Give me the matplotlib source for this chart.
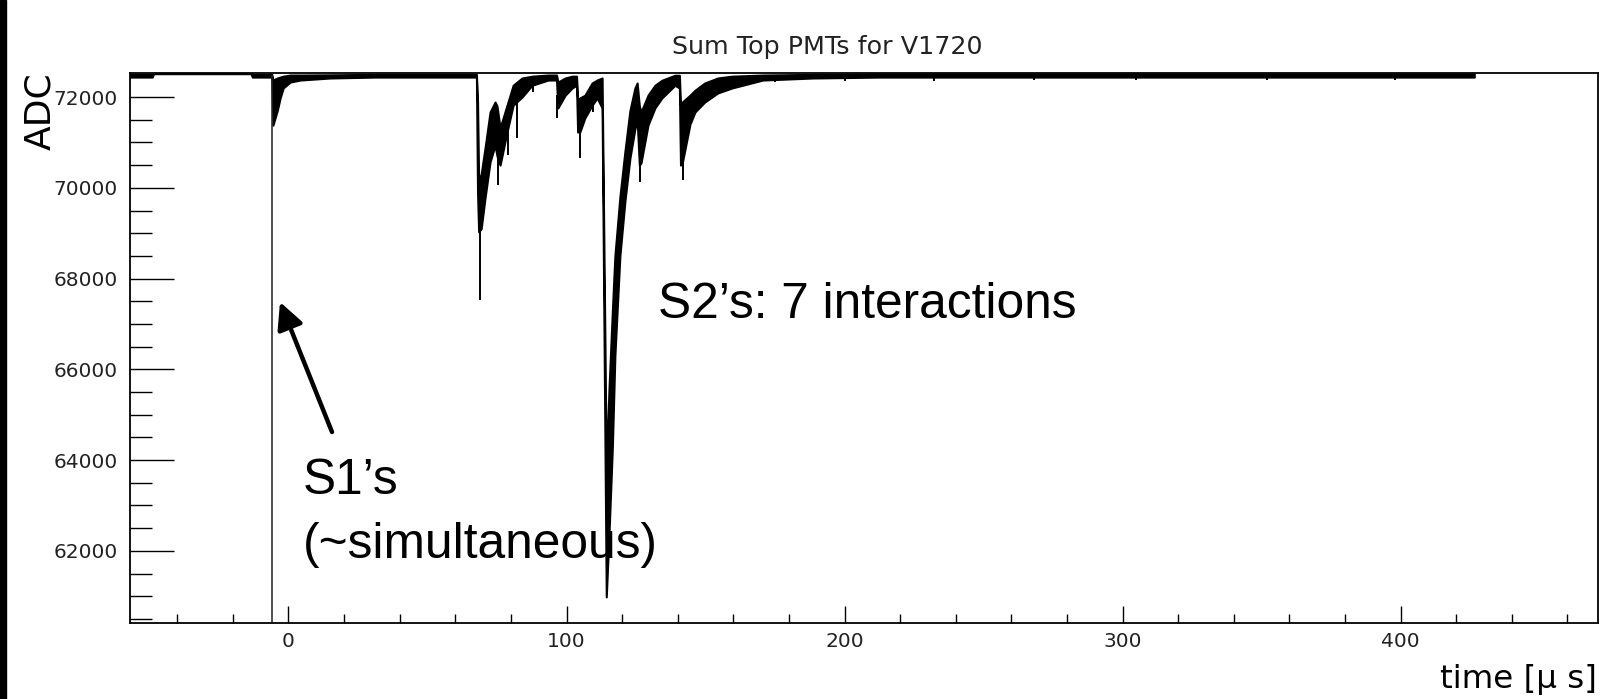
import numpy as np
import matplotlib
matplotlib.use("Agg")
import matplotlib.pyplot as plt
from matplotlib.patches import Rectangle
from matplotlib.ticker import MultipleLocator

# Summed waveform of the top PMTs (V1720 digitizer): envelope of the noisy trace
band_t = [-56.9, -49.0, -48.5, -13.5, -13.0, -6.0, -5.6, -4.0, -3.0, -1.9, 0.6, 4.2, 15.0, 31.0,
          67.6, 68.0, 68.4, 69.3, 70.7, 72.5, 74.3, 75.0, 76.1, 78.6, 80.8, 84.0, 87.6, 93.4,
          96.4, 96.9, 99.5, 102.0, 103.6, 104.0, 104.8, 106.6, 109.2, 111.0, 112.8,
          114.3, 115.3, 116.5, 117.4, 119.2, 121.0, 122.8, 124.6, 125.4, 126.2, 126.8,
          129.3, 131.8, 134.3, 139.0, 140.6, 141.0, 141.8, 144.4, 146.2, 149.7, 154.4,
          159.5, 170.6, 188.6, 212.7, 426.5]
band_hi = [72500, 72500, 72535, 72535, 72500, 72500, 72375, 72420, 72440, 72460, 72485, 72485, 72490, 72500,
           72500, 71900, 70170, 70300, 70880, 71670, 71890, 71800, 71320, 71820, 72260, 72420, 72460, 72485,
           72485, 72330, 72420, 72460, 72460, 71930, 71980, 72040, 72310, 72375, 72420,
           63850, 65600, 67300, 68500, 69800, 70800, 71700, 72200, 72310, 71800, 71670,
           72040, 72260, 72370, 72480, 72480, 71820, 71900, 72040, 72150, 72310, 72420,
           72460, 72485, 72500, 72510, 72510]
band_lo = [72440, 72440, 72515, 72515, 72440, 72440, 71380, 71710, 71980, 72200, 72330, 72375, 72420, 72440,
           72440, 69900, 69030, 69100, 69780, 70570, 70940, 70700, 70500, 71230, 71820, 72000, 72260, 72375,
           72375, 71760, 72040, 72200, 72260, 71230, 71230, 71540, 71820, 71980, 71760,
           60985, 62400, 64300, 66300, 68500, 69700, 70650, 71300, 71500, 70500, 70550,
           71380, 71760, 71980, 72260, 72200, 70500, 70600, 71400, 71670, 71890, 72090,
           72200, 72375, 72420, 72440, 72440]

# single-sample excursions below the band
spike_t = [68.9, 75.4, 79.0, 82.2, 88.0, 96.7, 104.8, 109.6, 126.6, 141.8,
           175, 200, 232, 268, 305, 352, 398]
spike_adc = [67530, 70060, 70720, 71100, 72110, 71540, 70660, 71670, 70130, 70170,
             72330, 72350, 72360, 72380, 72370, 72380, 72370]

# S1 pulse, goes off scale
s1_t = -5.8
s1_adc = 58000

fig = plt.figure(figsize=(16.19, 6.99), dpi=100)
fig.patches.append(Rectangle((0, 0), 6 / 1619, 1, transform=fig.transFigure,
                             color="black", zorder=10))

ax = fig.add_axes([130 / 1619, 76 / 699, 1468 / 1619, 550 / 699])

ax.fill_between(band_t, band_lo, band_hi, color="black", edgecolor="black", linewidth=1.5)
spike_base = np.interp(spike_t, band_t, band_lo) + 40
ax.vlines(spike_t, spike_adc, spike_base, color="black", linewidth=1.4)
ax.vlines(s1_t, s1_adc, 72480, color="#222222", linewidth=1.1)

ax.set_xlim(-57, 471)
ax.set_ylim(60410, 72530)

ax.xaxis.set_major_locator(MultipleLocator(100))
ax.xaxis.set_minor_locator(MultipleLocator(20))
ax.yaxis.set_major_locator(MultipleLocator(2000))
ax.yaxis.set_minor_locator(MultipleLocator(500))

ax.tick_params(axis="y", which="major", direction="in", length=32, width=1, pad=8.6,
               labelsize=14.5, labelcolor="#222222")
ax.tick_params(axis="y", which="minor", direction="in", length=16, width=1)
ax.tick_params(axis="x", which="major", direction="in", length=12.2, width=1, pad=6.5,
               labelsize=14.5, labelcolor="#222222")
ax.tick_params(axis="x", which="minor", direction="in", length=6.5, width=1)
ax.tick_params(top=False, right=False, which="both")
for side in ax.spines.values():
    side.set_linewidth(1.3)

fig.text(827 / 1619, 1 - 47 / 699, "Sum Top PMTs for V1720", ha="center", va="center",
         fontsize=18.3, color="#222222")
fig.text(40 / 1619, 1 - 72 / 699, "ADC", rotation=90, ha="center", va="top", fontsize=26)
fig.text(1597 / 1619, 11 / 699, "time [μ s]", ha="right", va="baseline", fontsize=23.4)

# annotations
sans = "Liberation Sans"
fig.text(658 / 1619, 1 - 318 / 699, "S2’s: 7 interactions", family=sans, fontsize=35.7,
         ha="left", va="baseline")
fig.text(303 / 1619, 1 - 494 / 699, "S1’s", family=sans, fontsize=35.7, ha="left", va="baseline")
fig.text(303 / 1619, 1 - 558 / 699, "(~simultaneous)", family=sans, fontsize=35.7,
         ha="left", va="baseline")
ax.annotate("", xy=(280, 699 - 302), xytext=(332, 699 - 432),
            xycoords="figure pixels", textcoords="figure pixels",
            arrowprops=dict(arrowstyle="-|>", color="black", lw=3.2, mutation_scale=40,
                            shrinkA=0, shrinkB=0))

fig.savefig("out.png", dpi=100)
